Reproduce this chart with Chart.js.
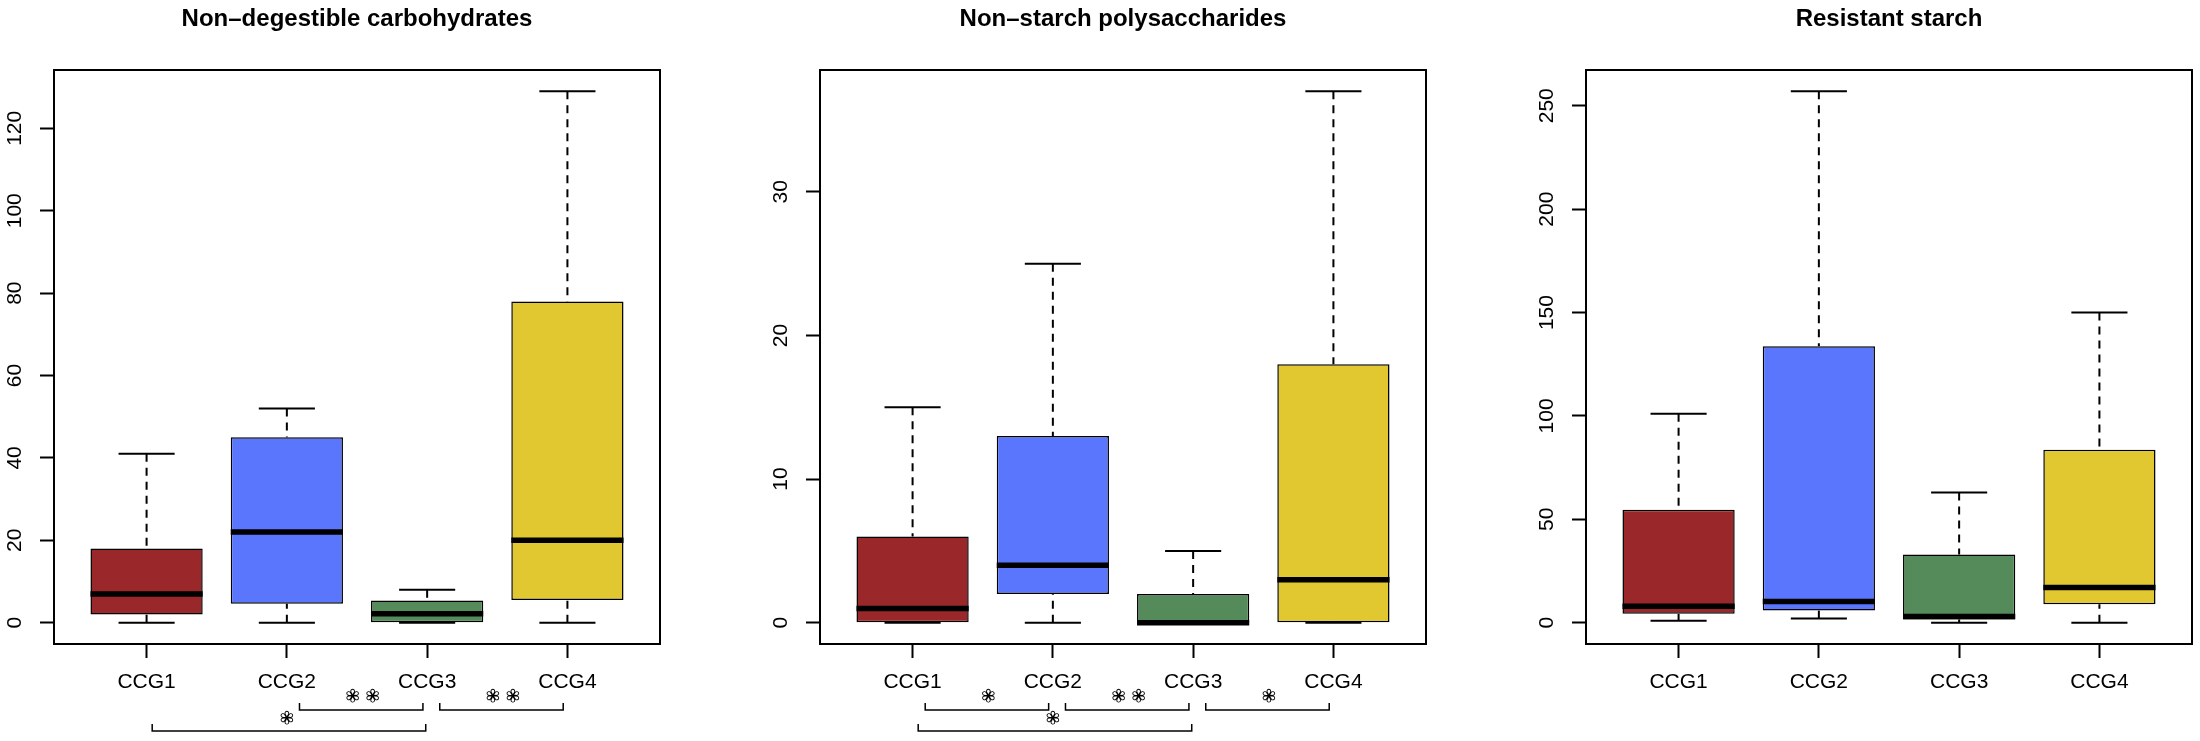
<!DOCTYPE html>
<html>
<head>
<meta charset="utf-8">
<script src="https://cdn.jsdelivr.net/npm/chart.js"></script>
<style>
  html, body { margin: 0; padding: 0; background: #fff; overflow: hidden; }
  #wrap { position: relative; width: 2200px; height: 741px; overflow: hidden; }
  .panel { position: absolute; top: 0; width: 714px; height: 741px; }
</style>
</head>
<body>
<div id="wrap">
  <div class="panel" style="left:0px"><canvas id="c1"></canvas></div>
  <div class="panel" style="left:766px"><canvas id="c2"></canvas></div>
  <div class="panel" style="left:1532px"><canvas id="c3"></canvas></div>
</div>
<script>
// groups
const categories = ['CCG1', 'CCG2', 'CCG3', 'CCG4'];
const positions = [1, 2, 3, 4];
const groupColors = ['#9a2729', '#5a76fd', '#558a5a', '#e2c830'];

// Non-degestible carbohydrates
const ndcMin = [0, 0, 0, 0];
const ndcQ1 = [2, 4.6, 0, 5.5];
const ndcMed = [7, 22, 2.2, 20];
const ndcQ3 = [18, 45, 5.4, 78];
const ndcMax = [41, 52, 8, 129];
const ndcTicks = [0, 20, 40, 60, 80, 100, 120];
const ndcSig = [[2, 3, '**', 0], [3, 4, '**', 0], [1, 3, '*', 1]];

// Non-starch polysaccharides
const nspMin = [0, 0, 0, 0];
const nspQ1 = [0, 2, 0, 0];
const nspMed = [1, 4, 0, 3];
const nspQ3 = [6, 13, 2, 18];
const nspMax = [15, 25, 5, 37];
const nspTicks = [0, 10, 20, 30];
const nspSig = [[1, 2, '*', 0], [2, 3, '**', 0], [3, 4, '*', 0], [1, 3, '*', 1]];

// Resistant starch
const rsMin = [1, 2, 0, 0];
const rsQ1 = [4.3, 5.9, 1.6, 8.9];
const rsMed = [8, 10.3, 3, 17];
const rsQ3 = [54.6, 133.7, 33, 83.6];
const rsMax = [101, 257, 63, 150];
const rsTicks = [0, 50, 100, 150, 200, 250];
const rsSig = [];

const FONT = 'Liberation Sans, Arial, Helvetica, sans-serif';

function seg(ctx, x1, y1, x2, y2) {
  ctx.beginPath();
  ctx.moveTo(x1, y1);
  ctx.lineTo(x2, y2);
  ctx.stroke();
}

// whiskers, medians, frame, rotated y labels and significance brackets
const boxExtras = {
  id: 'boxExtras',
  afterDatasetsDraw(chart, args, opts) {
    const ctx = chart.ctx;
    const y = chart.scales.y;
    const bars = chart.getDatasetMeta(0).data;
    ctx.save();
    ctx.strokeStyle = '#000';
    bars.forEach((bar, i) => {
      const half = bar.width / 2;
      const yMax = y.getPixelForValue(opts.maxs[i]);
      const yMin = y.getPixelForValue(opts.mins[i]);
      ctx.lineWidth = 2;
      ctx.setLineDash([8, 6]);
      seg(ctx, bar.x, yMax, bar.x, y.getPixelForValue(opts.q3s[i]));
      seg(ctx, bar.x, yMin, bar.x, y.getPixelForValue(opts.q1s[i]));
      ctx.setLineDash([]);
      seg(ctx, bar.x - half / 2, yMax, bar.x + half / 2, yMax);
      seg(ctx, bar.x - half / 2, yMin, bar.x + half / 2, yMin);
      ctx.lineWidth = 5.5;
      const yMed = y.getPixelForValue(opts.meds[i]);
      seg(ctx, bar.x - half, yMed, bar.x + half, yMed);
    });
    ctx.restore();
  },
  afterDraw(chart, args, opts) {
    const ctx = chart.ctx;
    const area = chart.chartArea;
    const x = chart.scales.x;
    const y = chart.scales.y;
    ctx.save();
    ctx.strokeStyle = '#000';
    ctx.lineWidth = 2;
    ctx.strokeRect(area.left, area.top, area.right - area.left, area.bottom - area.top);

    ctx.fillStyle = '#000';
    ctx.font = '21px ' + FONT;
    ctx.textAlign = 'center';
    ctx.textBaseline = 'middle';
    y.ticks.forEach(t => {
      ctx.save();
      ctx.translate(area.left - 38.5, y.getPixelForValue(t.value));
      ctx.rotate(-Math.PI / 2);
      ctx.fillText(String(t.value), 0, 0);
      ctx.restore();
    });

    ctx.font = '17px DejaVu Sans';
    opts.sig.forEach(([a, b, label, level]) => {
      const x1 = x.getPixelForValue(level ? a + 0.04 : a + 0.09);
      const x2 = x.getPixelForValue(level ? b - 0.01 : b - 0.03);
      const yb = level ? 731 : 710;
      ctx.lineWidth = 1.5;
      ctx.beginPath();
      ctx.moveTo(x1, yb - 7);
      ctx.lineTo(x1, yb);
      ctx.lineTo(x2, yb);
      ctx.lineTo(x2, yb - 7);
      ctx.stroke();
      const cx = x.getPixelForValue((a + b) / 2 + (level ? 0 : 0.04));
      const n = label.length;
      // outlined asterisks, as in the original
      ctx.lineWidth = 0.9;
      ctx.fillStyle = '#fff';
      for (let k = 0; k < n; k++) {
        const ax = cx + (k - (n - 1) / 2) * 20;
        const ay = level ? 720 : 698;
        ctx.fillText('\u273D', ax, ay);
        ctx.strokeText('\u273D', ax, ay);
      }
    });
    ctx.restore();
  }
};

function makePanel(id, title, mins, q1s, meds, q3s, maxs, yTicks, sig) {
  const lo = Math.min(...mins);
  const hi = Math.max(...maxs);
  const ext = (hi - lo) * 0.04;
  const tickGrid = { offset: false, drawOnChartArea: false, drawTicks: true, tickLength: 14, tickColor: '#000', tickWidth: 2 };
  return new Chart(document.getElementById(id), {
    type: 'bar',
    data: {
      datasets: [{
        data: positions.map((p, i) => ({ x: p, y: [q1s[i], q3s[i]] })),
        backgroundColor: groupColors,
        borderColor: '#000',
        borderWidth: 1.5,
        borderSkipped: false,
        barPercentage: 0.8,
        categoryPercentage: 1.0
      }]
    },
    options: {
      responsive: true,
      maintainAspectRatio: false,
      animation: false,
      layout: { padding: { left: 0, right: 54, top: 0, bottom: 0 } },
      plugins: {
        legend: { display: false },
        tooltip: { enabled: false },
        title: {
          display: true,
          text: title,
          fullSize: false,
          color: '#000',
          font: { family: FONT, size: 24, weight: 'bold' },
          padding: { top: 5, bottom: 36.2 }
        },
        boxExtras: { mins, q1s, meds, q3s, maxs, sig }
      },
      scales: {
        x: {
          type: 'linear',
          offset: false,
          min: 0.34,
          max: 4.66,
          afterBuildTicks: s => { s.ticks = positions.map(v => ({ value: v })); },
          afterFit: s => { s.height = 97; },
          grid: tickGrid,
          border: { display: false },
          ticks: {
            callback: (v, i) => categories[i],
            color: '#000',
            font: { family: FONT, size: 21 },
            padding: 12,
            maxRotation: 0,
            autoSkip: false
          }
        },
        y: {
          min: lo - ext,
          max: hi + ext,
          afterBuildTicks: s => { s.ticks = yTicks.map(v => ({ value: v })); },
          afterFit: s => { s.width = 54; },
          grid: tickGrid,
          border: { display: false },
          ticks: { display: false }
        }
      }
    },
    plugins: [boxExtras]
  });
}

makePanel('c1', 'Non\u2013degestible carbohydrates', ndcMin, ndcQ1, ndcMed, ndcQ3, ndcMax, ndcTicks, ndcSig);
makePanel('c2', 'Non\u2013starch polysaccharides', nspMin, nspQ1, nspMed, nspQ3, nspMax, nspTicks, nspSig);
makePanel('c3', 'Resistant starch', rsMin, rsQ1, rsMed, rsQ3, rsMax, rsTicks, rsSig);
</script>
</body>
</html>
